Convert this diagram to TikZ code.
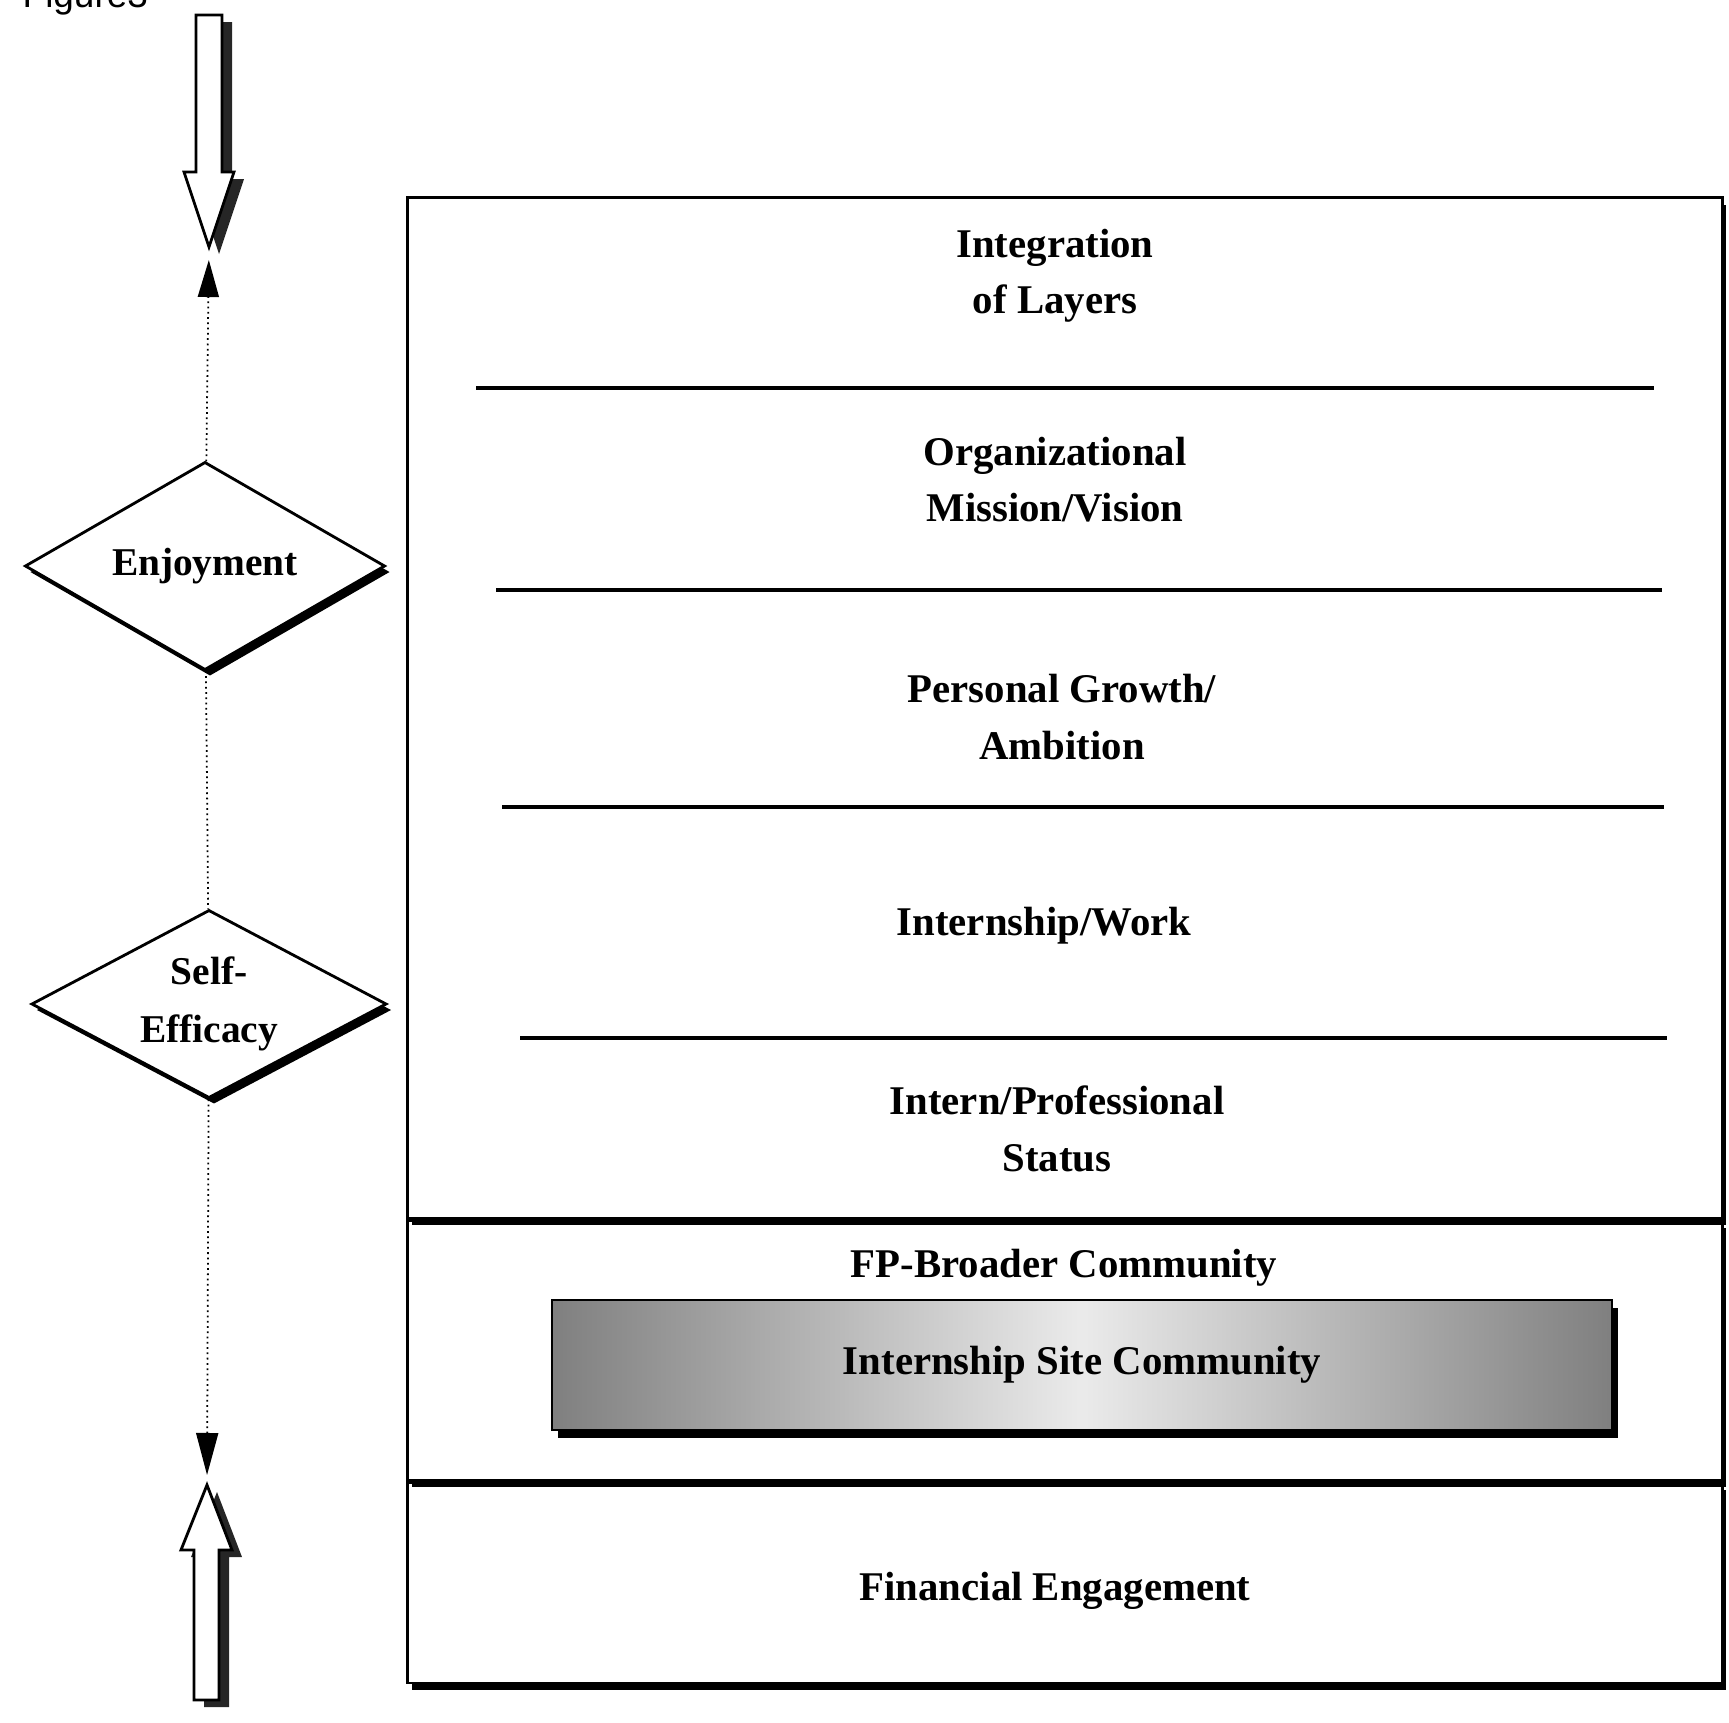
\documentclass[tikz,border=0pt]{standalone}
\usepackage{fontspec}
\setmainfont{Liberation Serif}
\setsansfont{Liberation Sans}
\usetikzlibrary{arrows.meta,positioning,shapes.geometric,shadows}
\newcommand{\layerfont}{\bfseries\fontsize{11.6}{16}\selectfont}
\newcommand{\moodfont}{\bfseries\fontsize{11.2}{16.4}\selectfont}
\tikzset{
  layerbox/.style={draw=black,line width=0.8pt,fill=white,inner sep=0pt,
              minimum width=13.14cm,font=\layerfont,
              general shadow={fill=black,shadow xshift=0.04cm,shadow yshift=-0.07cm}},
  sitebox/.style={draw=black,line width=0.6pt,left color=black!50,right color=black!50,
              middle color=black!8,minimum width=10.59cm,minimum height=1.3cm,
              inner sep=0pt,font=\layerfont,
              general shadow={fill=black,shadow xshift=0.06cm,shadow yshift=-0.08cm}},
  moodbox/.style={diamond,aspect=1.9,draw=black,line width=0.8pt,fill=white,inner sep=0pt,
              align=center,font=\moodfont,
              general shadow={fill=black,shadow xshift=0.05cm,shadow yshift=-0.06cm}},
  blockarrow/.style={draw=black,line width=0.8pt,fill=white,line join=miter,
              general shadow={fill=black!85,shadow xshift=0.1cm,shadow yshift=-0.07cm}},
  linkflow/.style={-{Triangle[length=0.37cm,width=0.21cm]},line width=0.5pt,densely dotted,draw=black},
  linkline/.style={line width=0.5pt,densely dotted,draw=black},
  divider/.style={line width=1pt,draw=black},
  note/.style={font=\layerfont,align=center,inner sep=0pt}
}

\begin{document}
\begin{tikzpicture}[x=0.01cm,y=-0.01cm]
  \useasboundingbox (0,0) rectangle (1729,1723);
  \node[anchor=base west,inner sep=0pt,font=\sffamily\fontsize{10.5}{12}\selectfont] (figtag) at (22,7) {Figure3};

  % motivation column
  \draw[blockarrow] (196,15) -- (222,15) -- (222,172) -- (234,172) -- (209,247)
        -- (184,172) -- (196,172) -- cycle;
  \coordinate (intip) at (209,247);
  \draw[blockarrow] (194,1700) -- (219,1700) -- (219,1550) -- (232,1550) -- (207,1485)
        -- (181,1550) -- (194,1550) -- cycle;
  \coordinate (outtip) at (207,1485);

  \node[moodbox,minimum width=3.6cm,minimum height=2.08cm] (enjoy) at (205,566) {Enjoyment};
  \node[moodbox,minimum width=3.55cm,minimum height=1.88cm] (selfeff) at (209,1004) {Self-\\Efficacy};

  \draw[linkflow,shorten >=0.13cm] (enjoy) -- (intip);
  \draw[linkline] (enjoy) -- (selfeff);
  \draw[linkflow,-{Triangle[length=0.42cm,width=0.22cm]},shorten >=0.1cm] (selfeff) -- (outtip);

  % layer stack
  \node[layerbox,minimum height=2.0cm] (money) at (1065,1583) {};
  \node[layerbox,above=0pt of money,minimum height=2.59cm] (community) {};
  \node[layerbox,above=0pt of community,minimum height=10.2cm] (core) {};

  \node[note] (integration) at (1055,276) {Integration\\of Layers};
  \draw[divider] (476,388) -- (1654,388);
  \node[note] (mission) at (1055,480) {Organizational\\Mission/Vision};
  \draw[divider] (496,590) -- (1662,590);
  \node[note] (growth) at (1062,717) {Personal Growth/\\Ambition};
  \draw[divider] (502,807) -- (1664,807);
  \node[note] (work) at (1044,926) {Internship/Work};
  \draw[divider] (520,1038) -- (1667,1038);
  \node[note] (status) at (1057,1129) {Intern/Professional\\Status};

  \node[note] (broader) at (1064,1268) {FP-Broader Community};
  \node[sitebox] (site) at (1082,1365) {Internship Site Community};
  \node[note] (finance) at (1055,1591) {Financial Engagement};
\end{tikzpicture}
\end{document}
